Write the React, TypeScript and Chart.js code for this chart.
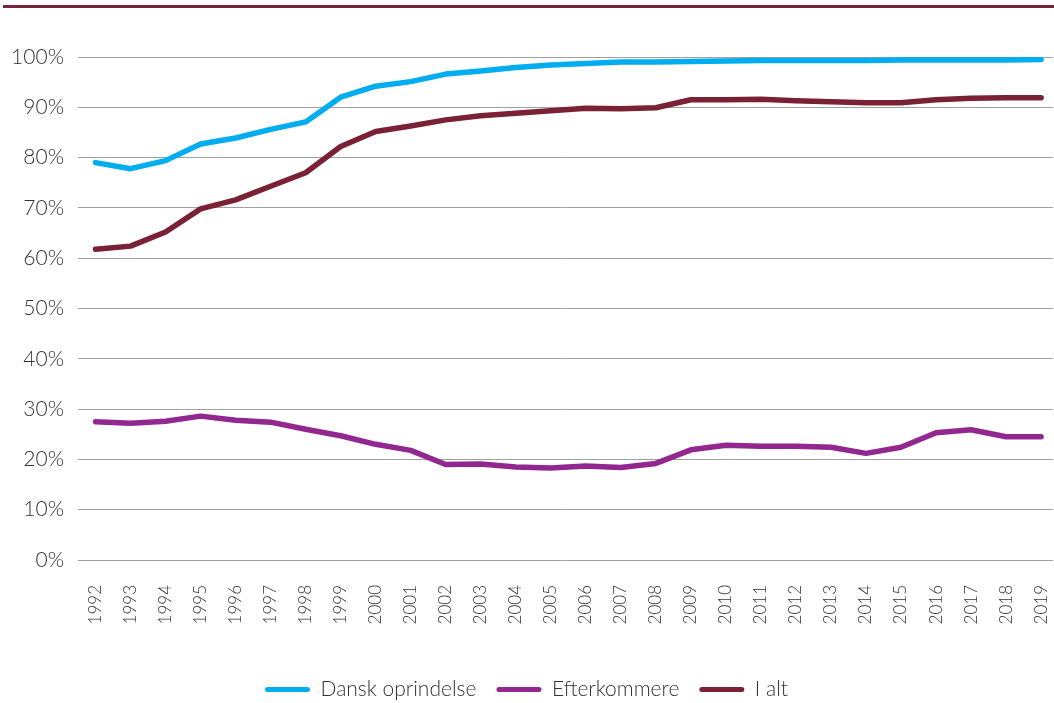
import React, { useEffect, useRef } from "react";
import { Chart, registerables } from "chart.js";

Chart.register(...registerables);

const years = [
  "1992", "1993", "1994", "1995", "1996", "1997", "1998", "1999", "2000", "2001",
  "2002", "2003", "2004", "2005", "2006", "2007", "2008", "2009", "2010", "2011",
  "2012", "2013", "2014", "2015", "2016", "2017", "2018", "2019",
];

const danskOprindelse = [
  79.0, 77.8, 79.4, 82.7, 83.9, 85.6, 87.1, 92.0, 94.2, 95.1,
  96.6, 97.2, 97.9, 98.4, 98.7, 99.0, 99.0, 99.1, 99.2, 99.3,
  99.3, 99.3, 99.3, 99.4, 99.4, 99.4, 99.4, 99.5,
];

const efterkommere = [
  27.5, 27.2, 27.6, 28.6, 27.8, 27.4, 26.0, 24.7, 23.0, 21.8,
  19.0, 19.1, 18.5, 18.3, 18.7, 18.4, 19.2, 21.9, 22.8, 22.6,
  22.6, 22.4, 21.2, 22.4, 25.3, 25.9, 24.5, 24.5,
];

const iAlt = [
  61.8, 62.4, 65.2, 69.8, 71.6, 74.3, 77.0, 82.2, 85.2, 86.3,
  87.5, 88.3, 88.8, 89.3, 89.8, 89.7, 89.9, 91.5, 91.5, 91.6,
  91.3, 91.1, 90.9, 90.9, 91.5, 91.8, 91.9, 91.9,
];

const seriesNames = ["Dansk oprindelse", "Efterkommere", "I alt"];
const seriesColors = ["#00adee", "#92278f", "#7a2136"];

const FONT = "Lato, 'Open Sans', 'DejaVu Sans', sans-serif";

export default function App() {
  const canvasRef = useRef<HTMLCanvasElement | null>(null);

  useEffect(() => {
    if (!canvasRef.current) return;
    const values = [danskOprindelse, efterkommere, iAlt];
    const yearNums = years.map((y) => Number(y));
    const chart = new Chart(canvasRef.current, {
      type: "line",
      data: {
        datasets: values.map((v, i) => ({
          label: seriesNames[i],
          data: v.map((val, j) => ({ x: yearNums[j], y: val })),
          borderColor: seriesColors[i],
          backgroundColor: seriesColors[i],
          borderWidth: 5.5,
          pointRadius: 0,
          tension: 0,
          borderCapStyle: "round" as const,
          borderJoinStyle: "round" as const,
          fill: false,
        })),
      },
      options: {
        animation: false,
        responsive: true,
        maintainAspectRatio: false,
        layout: { padding: { top: 57, left: 0, right: 1, bottom: -7 } },
        plugins: {
          tooltip: { enabled: false },
          legend: {
            position: "bottom",
            labels: {
              boxWidth: 45,
              boxHeight: 5,
              useBorderRadius: true,
              borderRadius: 2.5,
              padding: 20,
              color: "#333333",
              font: { family: FONT, size: 21, weight: "300" },
              generateLabels: (c: any) =>
                Chart.defaults.plugins.legend.labels
                  .generateLabels(c)
                  .map((l: any) => ({ ...l, lineWidth: 1, strokeStyle: "rgba(0,0,0,0)" })),
            },
          },
        },
        scales: {
          x: {
            type: "linear",
            min: yearNums[0] - 0.5,
            max: yearNums[yearNums.length - 1] + 0.34,
            grid: { display: false, drawTicks: false },
            border: { display: false },
            ticks: {
              stepSize: 1,
              includeBounds: false,
              minRotation: 90,
              maxRotation: 90,
              autoSkip: false,
              padding: 25,
              color: "#333333",
              font: { family: FONT, size: 17, weight: "300" },
              callback: (v: any) => {
                const s = String(v);
                return years.includes(s) ? s : "";
              },
            },
            afterFit: (s: any) => {
              s.height = 99;
              s.paddingLeft = 0;
              s.paddingRight = 0;
            },
          },
          y: {
            min: 0,
            max: 100,
            grid: { color: "#a0a0a0", lineWidth: 1, drawTicks: false },
            border: { display: false },
            ticks: {
              stepSize: 10,
              padding: 14,
              color: "#333333",
              font: { family: FONT, size: 21, weight: "300" },
              callback: (v: any) => v + "%",
            },
            afterFit: (s: any) => {
              s.width = 78;
            },
          },
        },
      },
    });
    return () => chart.destroy();
  }, []);

  return (
    <div
      style={{
        position: "fixed",
        left: 0,
        top: 0,
        width: 1054,
        height: 703,
        background: "#ffffff",
      }}
    >
      <div
        style={{
          position: "absolute",
          left: 3,
          top: 5,
          width: 1051,
          height: 3,
          background: "#7b2338",
        }}
      />
      <canvas ref={canvasRef} />
    </div>
  );
}
